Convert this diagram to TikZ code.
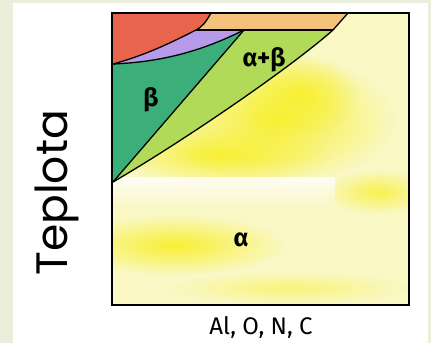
\documentclass[tikz,border=0pt]{standalone}
\usepackage{fontspec}
\usetikzlibrary{calc, fadings}
\newfontfamily\axisfont{Poppins}
\newfontfamily\labelfont{Fira Sans}
\definecolor{framegreen}{RGB}{235,238,219}
\definecolor{phasered}{RGB}{232,100,76}
\definecolor{phaseorange}{RGB}{244,194,122}
\definecolor{phasepurple}{RGB}{183,155,232}
\definecolor{betagreen}{RGB}{60,174,122}
\definecolor{abgreen}{RGB}{176,218,88}
\definecolor{alphayellow}{RGB}{250,248,196}
\definecolor{brightyellow}{RGB}{247,240,50}
\tikzfading[name=softblob, inner color=transparent!0, outer color=transparent!100]
\tikzfading[name=bandfade, top color=transparent!0, bottom color=transparent!100]

\begin{document}
\begin{tikzpicture}[x=1pt, y=-1pt,
    phaseline/.style={black, line width=1.3pt},
    boxline/.style={black, line width=2.2pt},
    streak/.style={brightyellow, path fading=softblob},
    phaselabel/.style={font=\labelfont\bfseries\fontsize{25}{28}\selectfont}]
    % Frame
    \fill[framegreen] (0,0) rectangle (431,343);
    \fill[white] (13,3) rectangle (428,343);
    \useasboundingbox (0,0) rectangle (431,343);

    % Box corners and phase points
    \coordinate (tl) at (112,13);
    \coordinate (br) at (409,305);
    \coordinate (o1) at (211,13);
    \coordinate (o2) at (348,13);
    \coordinate (o3) at (333,30);
    \coordinate (p1) at (196,30);
    \coordinate (p2) at (244,30);
    \coordinate (j) at (113,64);
    \coordinate (k) at (113,182);

    % alpha field with yellow streaks
    \fill[alphayellow] (tl) rectangle (br);
    \begin{scope}
        \clip (tl) rectangle (br);
        \fill[streak] (275,120) ellipse (120 and 65);
        \fill[streak] (220,155) ellipse (110 and 30);
        \fill[streak] (300,95) ellipse (60 and 40);
        \fill[streak] (175,245) ellipse (110 and 30);
        \fill[streak, fill opacity=0.8] (378,192) ellipse (55 and 22);
        \fill[streak, fill opacity=0.5] (290,288) ellipse (120 and 16);
        \fill[white, path fading=bandfade, fill opacity=0.85] (113,177) rectangle (335,208);
    \end{scope}

    % Phase fields
    \fill[abgreen] (p2) -- (o3) .. controls (290,68) and (185,140) .. (k) -- cycle;
    \fill[betagreen] (j) .. controls (160,62) and (200,52) .. (p2) -- (k) -- cycle;
    \fill[phasepurple] (p1) -- (p2) .. controls (200,52) and (160,62) .. (j)
        .. controls (150,54) and (180,38) .. (p1);
    \fill[phasered] (tl) -- (o1) .. controls (206,22) and (202,27) .. (p1)
        .. controls (180,38) and (150,54) .. (j) -- cycle;
    \fill[phaseorange] (o1) -- (o2) -- (o3) -- (p1) .. controls (202,27) and (206,22) .. (o1);

    % Phase boundaries
    \draw[phaseline] (o1) .. controls (206,22) and (202,27) .. (p1)
        .. controls (180,38) and (150,54) .. (j);
    \draw[phaseline] (p1) -- (o3);
    \draw[phaseline] (o2) -- (o3) .. controls (290,68) and (185,140) .. (k);
    \draw[phaseline] (p2) .. controls (200,52) and (160,62) .. (j);
    \draw[phaseline] (p2) -- (k);
    \draw[boxline] (tl) rectangle (br);

    % Labels
    \node[phaselabel] (ab) at (264,60) {α+β};
    \node[phaselabel] (b) at (151,100) {β};
    \node[phaselabel] (a) at (241,240) {α};
    \node[font=\labelfont\fontsize{24}{26}\selectfont, text=black] (xlab) at (261,327) {Al, O, N, C};
    \node[rotate=90, font=\axisfont\fontsize{44}{50}\selectfont] (ylab) at (57,193) {Teplota};
\end{tikzpicture}
\end{document}
